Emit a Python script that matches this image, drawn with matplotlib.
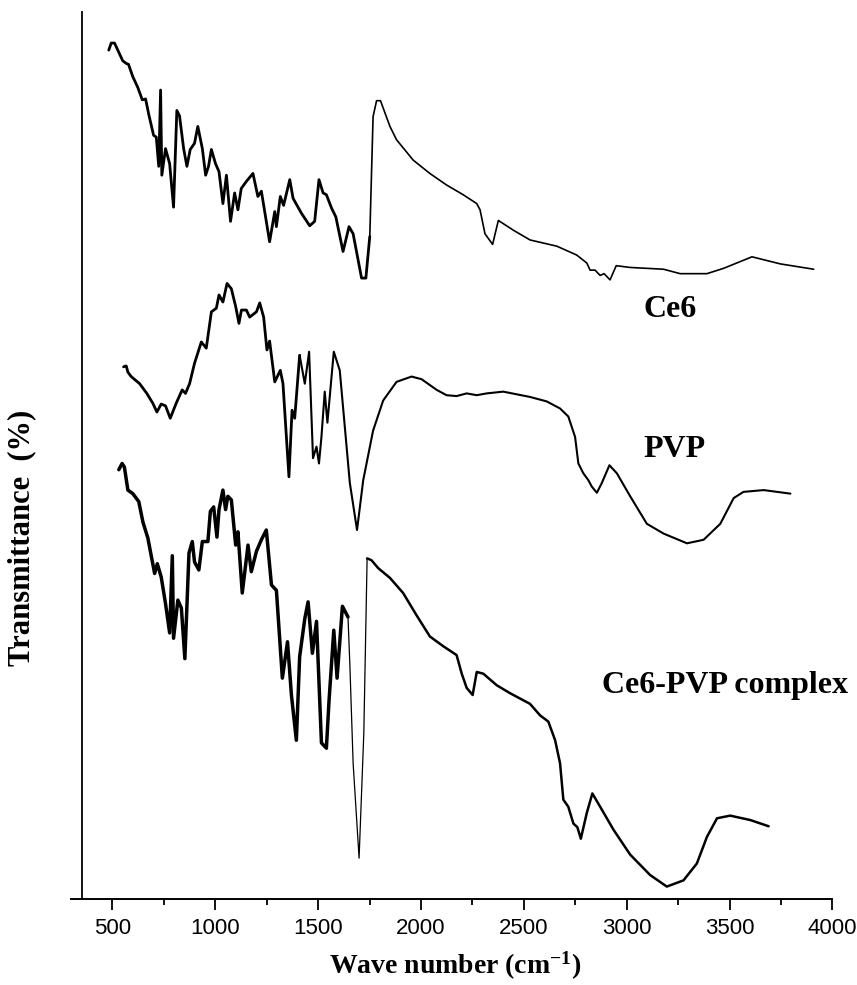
import matplotlib
matplotlib.use("Agg")
import matplotlib.pyplot as plt
import numpy as np

# ---------------- data (wavenumber cm-1, transmittance arbitrary %) ----------------
ce6_wn = [482, 494, 510, 526, 550, 567, 578, 599, 623, 645, 661, 677, 700, 713, 725, 734, 740,
          758, 778, 797, 813, 826, 846, 862, 878, 899, 915, 937, 953, 967, 981, 1001, 1018,
          1037, 1054, 1074, 1094, 1110, 1126, 1151, 1183, 1207, 1224, 1264, 1289, 1297, 1316,
          1332, 1362, 1378, 1402, 1419, 1459, 1483, 1504, 1524, 1540, 1565, 1586, 1621, 1650,
          1670, 1711, 1732, 1751, 1767, 1784, 1803, 1849, 1881, 1962, 2043, 2124, 2205, 2271,
          2287, 2311, 2348, 2376, 2449, 2530, 2660, 2757, 2806, 2822, 2846, 2871, 2890, 2919,
          2949, 3017, 3179, 3260, 3390, 3471, 3609, 3747, 3909]
ce6_t = [95.7, 96.5, 96.5, 95.7, 94.5, 94.2, 94.1, 92.7, 91.5, 90.1, 90.2, 88.4, 86.1, 85.9, 82.6,
         91.2, 81.6, 84.6, 82.9, 78.0, 88.9, 88.3, 84.6, 82.6, 84.5, 85.2, 87.1, 84.6, 81.6, 82.6,
         84.5, 82.9, 82.0, 78.4, 81.6, 76.4, 79.6, 77.7, 80.1, 80.9, 81.8, 79.2, 79.8, 74.1, 77.5,
         75.8, 79.2, 78.2, 81.1, 79.0, 78.0, 77.3, 75.9, 76.4, 81.1, 79.6, 79.4, 77.9, 76.9, 73.0,
         75.8, 75.0, 70.0, 70.0, 74.7, 88.2, 90.0, 90.0, 87.1, 85.6, 83.3, 81.8, 80.5, 79.4, 78.4,
         77.7, 75.0, 73.8, 76.5, 75.4, 74.3, 73.6, 72.6, 71.7, 70.9, 70.9, 70.3, 70.5, 69.8, 71.4,
         71.2, 71.0, 70.5, 70.5, 71.1, 72.4, 71.6, 71.0]

pvp_wn = [554, 567, 575, 591, 632, 667, 696, 716, 737, 758, 781, 810, 839, 855, 875, 899, 932,
          956, 981, 1005, 1018, 1037, 1057, 1078, 1099, 1115, 1127, 1151, 1167, 1200, 1216, 1235,
          1251, 1264, 1289, 1316, 1329, 1358, 1373, 1386, 1410, 1435, 1456, 1475, 1492, 1504,
          1516, 1532, 1545, 1576, 1605, 1654, 1689, 1719, 1767, 1816, 1881, 1954, 2003, 2076,
          2124, 2173, 2222, 2271, 2319, 2400, 2530, 2611, 2676, 2716, 2749, 2765, 2789, 2814,
          2830, 2855, 2879, 2916, 2952, 3017, 3098, 3179, 3293, 3374, 3455, 3520, 3568, 3666, 3796]
pvp_t = [60.0, 60.1, 59.4, 58.9, 58.1, 57.0, 55.9, 54.9, 55.8, 55.6, 54.2, 55.9, 57.4, 57.0, 58.1,
         60.4, 62.8, 62.1, 66.2, 66.6, 68.1, 67.3, 69.4, 68.8, 66.8, 64.9, 66.4, 66.4, 65.6, 66.2,
         67.2, 65.6, 61.9, 62.9, 58.3, 59.6, 58.1, 47.6, 55.1, 54.2, 61.3, 58.1, 61.7, 49.7, 51.0,
         49.1, 52.1, 57.2, 53.7, 61.7, 59.6, 46.9, 41.6, 47.2, 52.8, 56.2, 58.3, 58.9, 58.6, 57.4,
         56.8, 56.7, 57.0, 56.8, 57.0, 57.2, 56.6, 56.1, 55.3, 54.4, 52.1, 49.1, 48.0, 47.2, 46.5,
         45.8, 46.9, 48.9, 48.0, 45.4, 42.3, 41.2, 40.1, 40.5, 42.3, 45.2, 45.9, 46.1, 45.7]

cpx_wn = [531, 547, 558, 575, 599, 628, 648, 672, 705, 718, 737, 758, 778, 791, 797, 818, 835,
          852, 872, 888, 899, 920, 937, 964, 976, 992, 1008, 1018, 1037, 1050, 1061, 1078, 1099,
          1110, 1131, 1159, 1175, 1200, 1224, 1248, 1273, 1297, 1326, 1351, 1370, 1394, 1410,
          1435, 1451, 1472, 1492, 1516, 1540, 1553, 1576, 1592, 1618, 1645, 1654, 1670, 1699,
          1722, 1738, 1759, 1792, 1849, 1913, 1978, 2043, 2108, 2173, 2198, 2222, 2251, 2271,
          2303, 2368, 2433, 2530, 2579, 2619, 2652, 2676, 2692, 2716, 2741, 2760, 2777, 2806,
          2833, 2871, 2936, 3017, 3114, 3195, 3276, 3341, 3390, 3439, 3503, 3601, 3690]
cpx_t = [48.4, 49.1, 48.7, 46.1, 45.7, 44.8, 42.5, 40.7, 36.7, 37.8, 36.3, 33.3, 30.0, 38.7, 29.4,
         33.7, 32.8, 27.1, 39.0, 40.3, 38.0, 37.1, 40.3, 40.3, 43.7, 44.2, 40.8, 43.9, 46.1, 43.9,
         45.4, 45.0, 39.9, 41.4, 34.5, 39.9, 36.9, 39.2, 40.5, 41.6, 35.4, 34.8, 24.9, 29.0, 23.0,
         17.9, 27.3, 31.6, 33.5, 27.7, 31.3, 17.6, 17.0, 22.4, 30.3, 24.9, 33.0, 31.8, 26.5, 15.3,
         4.6, 18.7, 38.4, 38.2, 37.3, 36.2, 34.5, 32.0, 29.6, 28.5, 27.5, 25.4, 23.8, 23.0, 25.6,
         25.4, 24.1, 23.2, 22.0, 20.7, 20.0, 17.9, 15.3, 11.2, 10.4, 8.5, 8.1, 6.8, 9.7, 11.9,
         10.4, 7.8, 5.0, 2.7, 1.4, 2.1, 4.0, 7.0, 9.1, 9.4, 8.9, 8.2]

labels = ["Ce6", "PVP", "Ce6-PVP complex"]
label_pos = [(3080, 65.6), (3080, 49.8), (2880, 23.2)]
xticks = [500, 1000, 1500, 2000, 2500, 3000, 3500, 4000]
minor_xticks = [750, 1250, 1750, 2250, 2750, 3250, 3750]

# ---------------- figure ----------------
plt.rcParams['mathtext.fontset'] = 'custom'
plt.rcParams['mathtext.rm'] = 'Liberation Serif:bold'
plt.rcParams['mathtext.bf'] = 'Liberation Serif:bold'
plt.rcParams['mathtext.it'] = 'Liberation Serif:bold'

W, H = 857, 985
fig = plt.figure(figsize=(W / 100, H / 100), dpi=100)
ax = fig.add_axes([70.7 / W, (H - 899) / H, (832.4 - 70.7) / W, (899 - 12) / H])


def seg(wn, t, lo, hi, lw):
    wn = np.asarray(wn, float)
    t = np.asarray(t, float)
    m = (wn >= lo) & (wn <= hi)
    ax.plot(wn[m], t[m], color='black', lw=lw, solid_joinstyle='round', solid_capstyle='round')


seg(ce6_wn, ce6_t, 0, 1751, 2.0)
seg(ce6_wn, ce6_t, 1751, 5000, 1.2)
seg(pvp_wn, pvp_t, 0, 1410, 2.0)
seg(pvp_wn, pvp_t, 1410, 5000, 1.5)
seg(cpx_wn, cpx_t, 0, 1645, 2.5)
seg(cpx_wn, cpx_t, 1645, 1738, 0.9)
seg(cpx_wn, cpx_t, 1738, 5000, 1.8)

ax.set_xlim(297, 4000)
ax.set_ylim(0, 100)

for s in ['top', 'right']:
    ax.spines[s].set_visible(False)
ax.spines['left'].set_position(('data', 350))
ax.spines['left'].set_linewidth(1.3)
ax.spines['bottom'].set_linewidth(1.4)
ax.set_yticks([])
ax.set_xticks(xticks)
ax.set_xticks(minor_xticks, minor=True)
ax.tick_params(axis='x', which='major', direction='out', length=8, width=1.3, pad=6,
               labelsize=16)
ax.tick_params(axis='x', which='minor', direction='out', length=4.5, width=1.3)
for lab in ax.get_xticklabels():
    lab.set_fontfamily(['Liberation Sans', 'DejaVu Sans'])

for lab, (x, y) in zip(labels, label_pos):
    ax.text(x, y, lab, ha='left', va='baseline', fontsize=23, fontweight='bold',
            family=['Liberation Serif', 'DejaVu Serif'])

fig.text(455 / W, 1 - 974 / H, r'Wave number (cm$^{-1}$)', ha='center', va='baseline',
         fontsize=20, fontweight='bold', family=['Liberation Serif', 'DejaVu Serif'])
fig.text(22 / W, 1 - 538 / H, 'Transmittance  (%)', ha='center', va='center', rotation=90,
         fontsize=22, fontweight='bold', family=['Liberation Serif', 'DejaVu Serif'])

fig.savefig('out.png', dpi=100, facecolor='white')
